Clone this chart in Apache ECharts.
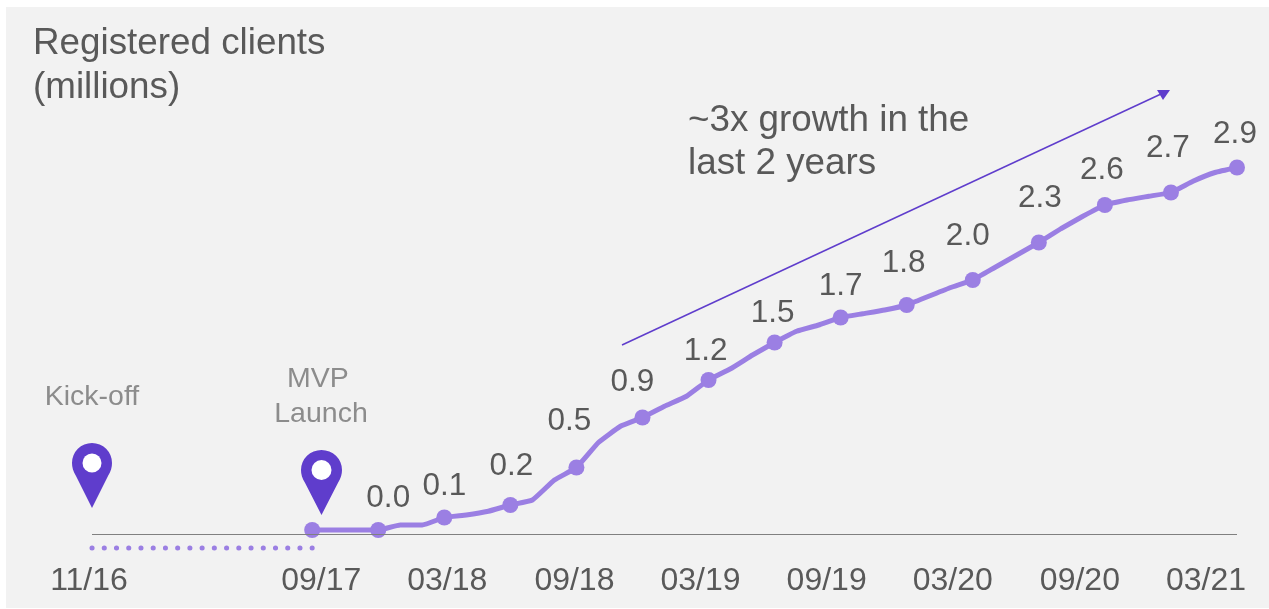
<!DOCTYPE html>
<html>
<head>
<meta charset="utf-8">
<title>Registered clients</title>
<style>
  html, body { margin: 0; padding: 0; background: #ffffff; }
  #chart { width: 1269px; height: 609px; }
</style>
<script src="https://cdn.jsdelivr.net/npm/echarts@6/dist/echarts.min.js"></script>
</head>
<body>
<div id="chart"></div>
<script>
// Monthly timeline, kick-off to latest reporting month
const months = [
  '11/16','12/16','01/17','02/17','03/17','04/17','05/17','06/17','07/17','08/17',
  '09/17','10/17','11/17','12/17',
  '01/18','02/18','03/18','04/18','05/18','06/18','07/18','08/18','09/18','10/18','11/18','12/18',
  '01/19','02/19','03/19','04/19','05/19','06/19','07/19','08/19','09/19','10/19','11/19','12/19',
  '01/20','02/20','03/20','04/20','05/20','06/20','07/20','08/20','09/20','10/20','11/20','12/20',
  '01/21','02/21','03/21'
];

// Registered clients in millions, from the MVP launch onwards
const registeredClients = [
  null,null,null,null,null,null,null,null,null,null,
  0.0,0.0,0.0,0.0,
  0.04,0.04,0.1,0.12,0.15,0.2,0.24,0.4,0.5,0.7,0.83,0.9,
  0.99,1.07,1.2,1.29,1.4,1.5,1.59,1.64,1.7,1.73,1.76,1.8,
  1.87,1.94,2.0,2.1,2.2,2.3,2.41,2.51,2.6,2.64,2.67,2.7,
  2.79,2.86,2.9
];

// Months that carry a dot, and those among them that also print their value
const markedMonths = ['09/17','12/17','03/18','06/18','09/18','12/18','03/19','06/19',
  '09/19','12/19','03/20','06/20','09/20','12/20','03/21'];
const unlabelledMonths = ['09/17'];

// Pre-launch stretch shown as a dotted run under the baseline
const preLaunchMonths = ['11/16','12/16','01/17','02/17','03/17','04/17','05/17','06/17','07/17','08/17','09/17'];
const preLaunchLevel = -0.144;
const baselineLevel = -0.032;

const tickLabels = ['11/16','09/17','03/18','09/18','03/19','09/19','03/20','09/20','03/21'];

// Nudges for the printed labels, in pixels
const valueLabelNudge = {
  '12/17':[10,-32], '03/18':[0,-31],  '06/18':[1,-39],  '09/18':[-7,-46],
  '12/18':[-10,-35],'03/19':[-3,-29], '06/19':[-2,-29], '09/19':[0,-31],
  '12/19':[-3,-42], '03/20':[-5,-44], '06/20':[1,-44],  '09/20':[-3,-35],
  '12/20':[-3,-44], '03/21':[-2,-33]
};
const tickLabelNudge = [-3, 9, 3, -2, -8, -14, -20, -25, -31];

const TEXT = '#595959', MUTED = '#8c8c8c', LINE = '#9b7fe3', DEEP = '#5f3dcc';
const FONT = '"Liberation Sans", Arial, sans-serif';

const clientPoints = registeredClients.map((value, i) => {
  const month = months[i];
  const marked = markedMonths.includes(month);
  const labelled = marked && !unlabelledMonths.includes(month);
  return {
    value,
    symbol: marked ? 'circle' : 'none',
    symbolSize: 16,
    label: labelled ? {
      show: true,
      position: 'inside',
      offset: valueLabelNudge[month],
      formatter: value.toFixed(1),
      color: TEXT,
      fontSize: 31.5,
      fontFamily: FONT
    } : { show: false }
  };
});

// One rich style per tick label; uneven padding slides the centred text sideways
const tickRich = {};
tickLabels.forEach((label, i) => {
  const shift = tickLabelNudge[i];
  tickRich['t' + i] = {
    color: TEXT, fontSize: 32, fontFamily: FONT,
    padding: shift > 0 ? [0, 0, 0, 2 * shift] : [0, -2 * shift, 0, 0]
  };
});

// Map-pin outline used for the two milestones
const PIN = 'path://M20,65 L4,33 C1,28 0,24 0,20 A20,20 0 1 1 40,20 C40,24 39,28 36,33 Z';

const chart = echarts.init(document.getElementById('chart'), null, { renderer: 'canvas' });
chart.setOption({
  animation: false,
  backgroundColor: '#ffffff',
  grid: { left: 92, right: 32, top: 130, bottom: 54 },
  xAxis: {
    type: 'category',
    data: months,
    boundaryGap: false,
    axisLine: { show: false },
    axisTick: { show: false },
    splitLine: { show: false },
    axisLabel: {
      margin: 10,
      hideOverlap: false,
      interval: (i, value) => tickLabels.includes(value),
      formatter: value => `{t${tickLabels.indexOf(value)}|${value}}`,
      rich: tickRich
    }
  },
  yAxis: { type: 'value', min: -0.2, max: 3.2, show: false },
  series: [
    {
      name: 'Pre-launch',
      type: 'line',
      silent: true,
      symbol: 'none',
      data: preLaunchMonths.map(() => preLaunchLevel),
      lineStyle: { color: LINE, width: 5, cap: 'round', type: [0.1, 12.13] },
      markLine: {
        silent: true,
        symbol: 'none',
        label: { show: false },
        lineStyle: { color: '#808080', width: 1.2, type: 'solid' },
        data: [[
          { coord: [months[0], baselineLevel] },
          { coord: [months[months.length - 1], baselineLevel] }
        ]]
      },
      markPoint: {
        silent: true,
        label: { show: false },
        data: [
          { x: 92, y: 475.5, symbol: PIN, symbolSize: [40, 65], itemStyle: { color: DEEP } },
          { x: 92, y: 463, symbol: 'circle', symbolSize: 19, itemStyle: { color: '#ffffff' } },
          { x: 321.5, y: 482.5, symbol: PIN, symbolSize: [41, 65], itemStyle: { color: DEEP } },
          { x: 321.5, y: 470, symbol: 'circle', symbolSize: 20, itemStyle: { color: '#ffffff' } }
        ]
      }
    },
    {
      name: 'Registered clients',
      type: 'line',
      z: 3,
      showAllSymbol: true,
      smooth: 0.12,
      connectNulls: false,
      data: clientPoints,
      lineStyle: { color: LINE, width: 5 },
      itemStyle: { color: LINE }
    }
  ],
  graphic: [
    // Panel behind the chart
    { type: 'rect', z: -10, silent: true, shape: { x: 6, y: 7, width: 1263, height: 601 }, style: { fill: '#f2f2f2' } },

    // Heading
    { type: 'text', x: 33, y: 44, style: { text: 'Registered clients', fill: TEXT, font: `36.8px ${FONT}`, verticalAlign: 'middle' } },
    { type: 'text', x: 33, y: 88, style: { text: '(millions)', fill: TEXT, font: `36.8px ${FONT}`, verticalAlign: 'middle' } },

    // Growth note and its arrow
    { type: 'text', x: 688, y: 121, style: { text: '~3x growth in the', fill: TEXT, font: `36.8px ${FONT}`, verticalAlign: 'middle' } },
    { type: 'text', x: 688, y: 164, style: { text: 'last 2 years', fill: TEXT, font: `36.8px ${FONT}`, verticalAlign: 'middle' } },
    { type: 'line', shape: { x1: 622, y1: 345, x2: 1161, y2: 94 }, style: { stroke: DEEP, lineWidth: 1.5 } },
    { type: 'polygon', shape: { points: [[1157, 90], [1170, 90], [1163, 100]] }, style: { fill: DEEP } },

    // Milestones
    { type: 'text', x: 92, y: 397, style: { text: 'Kick-off', fill: MUTED, font: `28.5px ${FONT}`, align: 'center', verticalAlign: 'middle' } },
    { type: 'text', x: 318, y: 379, style: { text: 'MVP', fill: MUTED, font: `28.5px ${FONT}`, align: 'center', verticalAlign: 'middle' } },
    { type: 'text', x: 321, y: 414, style: { text: 'Launch', fill: MUTED, font: `28.5px ${FONT}`, align: 'center', verticalAlign: 'middle' } }
  ]
});
</script>
</body>
</html>
